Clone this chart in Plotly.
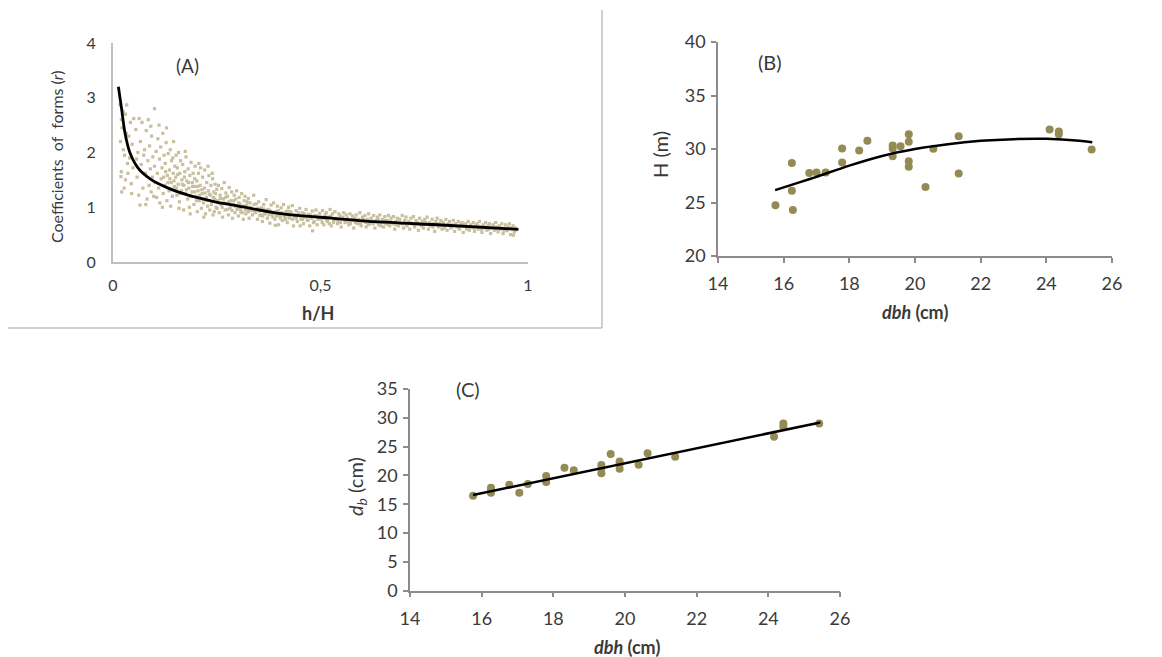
import plotly.graph_objects as go

# ---------------- Panel A data (h/H, coefficient of form r) ----------------
a_band1 = [(0.017,2.87),(0.02,2.6),(0.018,2.2),(0.02,1.65),(0.019,1.56),(0.022,2.45),(0.025,2.05),(0.027,1.35),
           (0.03,2.7),(0.033,2.87),(0.035,1.8),(0.03,1.5),(0.038,2.3),(0.04,1.9),(0.042,2.55),(0.045,1.25),
           (0.028,1.95),(0.024,2.75),(0.036,1.62),(0.046,2.15),(0.048,1.72),(0.05,2.62),(0.021,1.28),(0.044,1.43),(0.032,2.35)]
a_band2 = [(0.055,2.42),(0.058,1.55),(0.06,2.0),(0.062,1.22),(0.065,1.04),(0.066,2.2),(0.068,1.78),(0.07,2.55),
           (0.072,1.35),(0.074,1.95),(0.076,2.05),(0.078,1.62),(0.08,2.4),(0.082,1.15),(0.084,1.85),(0.085,2.6),
           (0.087,1.4),(0.088,2.12),(0.09,1.7),(0.092,1.28),(0.093,2.3),(0.095,1.55),(0.096,1.92),(0.098,1.2),
           (0.1,2.8),(0.1,1.75),(0.057,1.88),(0.063,2.62),(0.079,1.05),(0.091,2.48)]
a_band3 = [(0.102,1.45),(0.104,2.02),(0.105,1.18),(0.107,1.62),(0.108,2.25),(0.11,1.35),(0.112,1.88),(0.113,1.08),
           (0.115,2.1),(0.116,1.52),(0.118,1.72),(0.12,2.35),(0.121,1.25),(0.123,1.95),(0.125,1.4),(0.126,1.8),
           (0.128,2.18),(0.13,1.12),(0.131,1.58),(0.133,1.98),(0.135,1.3),(0.136,1.68),(0.138,2.05),(0.14,1.45),
           (0.141,1.85),(0.143,1.2),(0.145,1.62),(0.146,2.2),(0.148,1.38),(0.149,1.75),(0.111,2.5),(0.119,1.0),
           (0.129,2.45),(0.139,1.02),(0.144,1.9)]
a_band4 = [(0.151,1.55),(0.152,1.95),(0.154,1.22),(0.155,1.72),(0.157,1.42),(0.158,2.0),(0.16,1.1),(0.161,1.62),
           (0.163,1.85),(0.165,1.3),(0.166,1.5),(0.168,1.78),(0.17,0.95),(0.171,1.4),(0.173,1.65),(0.175,1.25),
           (0.176,1.92),(0.178,1.48),(0.18,1.15),(0.181,1.7),(0.183,1.35),(0.185,1.58),(0.186,0.88),(0.188,1.82),
           (0.19,1.28),(0.191,1.45),(0.193,1.62),(0.195,1.05),(0.196,1.38),(0.198,1.75),(0.2,1.2),(0.159,0.98),
           (0.174,2.02),(0.184,1.0),(0.197,1.52)]
a_band5 = [(0.202,1.48),(0.203,0.92),(0.205,1.3),(0.206,1.62),(0.208,1.12),(0.21,1.4),(0.211,1.72),(0.213,0.98),
           (0.215,1.25),(0.216,1.55),(0.218,1.08),(0.22,1.35),(0.221,1.68),(0.223,0.88),(0.225,1.18),(0.226,1.45),
           (0.228,1.02),(0.23,1.3),(0.231,1.58),(0.233,0.95),(0.235,1.22),(0.236,1.4),(0.238,1.1),(0.24,1.52),
           (0.241,0.86),(0.243,1.28),(0.245,1.15),(0.246,1.42),(0.248,1.0),(0.25,1.33),(0.207,1.8),(0.219,0.82),
           (0.229,1.75),(0.239,1.62),(0.244,0.92)]
a_band6 = [(0.252,1.12),(0.254,1.4),(0.256,0.9),(0.258,1.22),(0.26,1.05),(0.262,1.34),(0.264,0.82),(0.266,1.15),
           (0.268,1.45),(0.27,0.95),(0.272,1.26),(0.274,1.06),(0.276,1.2),(0.278,0.86),(0.28,1.36),(0.282,0.98),
           (0.284,1.12),(0.286,1.28),(0.288,0.8),(0.29,1.05),(0.292,1.22),(0.294,0.9),(0.296,1.15),(0.298,1.3),
           (0.3,1.0),(0.302,0.84),(0.304,1.18),(0.306,1.06),(0.308,0.92),(0.31,1.25),(0.312,1.02),(0.314,0.78),
           (0.316,1.12),(0.318,1.2),(0.32,0.88),(0.322,1.04),(0.324,0.96),(0.326,1.16),(0.328,0.8),(0.33,1.08),
           (0.333,0.98),(0.336,0.86),(0.339,1.22),(0.342,0.92),(0.345,1.06),(0.348,0.78)]
a_band7 = [(0.351,1.1),(0.354,0.85),(0.357,0.99),(0.36,0.74),(0.363,1.05),(0.366,0.9),(0.369,1.14),(0.372,0.8),
           (0.375,0.96),(0.378,0.71),(0.381,1.04),(0.384,0.87),(0.387,1.08),(0.39,0.78),(0.393,0.92),(0.396,1.02),
           (0.399,0.68),(0.402,0.85),(0.405,0.99),(0.408,0.76),(0.411,1.05),(0.414,0.83),(0.417,0.92),(0.42,0.72),
           (0.423,1.0),(0.426,0.8),(0.429,0.89),(0.432,1.03),(0.435,0.66),(0.438,0.83),(0.441,0.94),(0.444,0.74),
           (0.447,0.87),(0.45,0.98),(0.453,0.78),(0.456,0.9),(0.459,0.7),(0.462,0.83),(0.465,0.96),(0.468,0.76),
           (0.471,0.87),(0.474,0.66),(0.477,0.81),(0.48,0.93),(0.483,0.72),(0.486,0.85),(0.489,0.95),(0.492,0.68),
           (0.495,0.8),(0.498,0.89),(0.361,0.84),(0.391,0.67),(0.421,0.93),(0.451,0.66),(0.481,0.57)]
a_band8 = [(0.502,0.78),(0.505,0.94),(0.508,0.68),(0.511,0.86),(0.514,0.9),(0.517,0.74),(0.52,0.82),(0.523,0.96),
           (0.526,0.66),(0.529,0.88),(0.532,0.76),(0.535,0.92),(0.538,0.8),(0.541,0.7),(0.544,0.88),(0.547,0.84),
           (0.55,0.64),(0.553,0.78),(0.556,0.9),(0.559,0.72),(0.562,0.86),(0.565,0.8),(0.568,0.68),(0.571,0.88),
           (0.574,0.76),(0.577,0.84),(0.58,0.62),(0.583,0.8),(0.586,0.86),(0.589,0.7),(0.592,0.78),(0.595,0.9),
           (0.598,0.66),(0.601,0.82),(0.604,0.74),(0.607,0.85),(0.61,0.64),(0.613,0.78),(0.616,0.88),(0.619,0.7),
           (0.622,0.8),(0.625,0.74),(0.628,0.85),(0.631,0.62),(0.634,0.76),(0.637,0.82),(0.64,0.68),(0.643,0.86),
           (0.646,0.72),(0.649,0.78),(0.652,0.64),(0.655,0.83),(0.658,0.7),(0.661,0.76),(0.664,0.85),(0.667,0.66),
           (0.67,0.8),(0.673,0.72),(0.676,0.83),(0.679,0.6)]
a_band9 = [(0.682,0.74),(0.685,0.8),(0.688,0.66),(0.691,0.78),(0.694,0.7),(0.697,0.85),(0.7,0.62),(0.703,0.76),
           (0.706,0.82),(0.709,0.68),(0.712,0.74),(0.715,0.6),(0.718,0.8),(0.721,0.7),(0.724,0.83),(0.727,0.64),
           (0.73,0.76),(0.733,0.72),(0.736,0.58),(0.739,0.8),(0.742,0.68),(0.745,0.74),(0.748,0.62),(0.751,0.78),
           (0.754,0.7),(0.757,0.82),(0.76,0.6),(0.763,0.72),(0.766,0.66),(0.769,0.78),(0.772,0.7),(0.775,0.56),
           (0.778,0.74),(0.781,0.8),(0.784,0.64),(0.787,0.7),(0.79,0.76),(0.793,0.6),(0.796,0.72),(0.799,0.66),
           (0.802,0.78),(0.805,0.58),(0.808,0.7),(0.811,0.74),(0.814,0.62),(0.817,0.68),(0.82,0.76),(0.823,0.56),
           (0.826,0.7),(0.829,0.64),(0.832,0.74),(0.835,0.6),(0.838,0.68),(0.841,0.72),(0.844,0.54),(0.847,0.66),
           (0.85,0.7),(0.853,0.62),(0.856,0.74),(0.859,0.58),(0.862,0.68),(0.865,0.64),(0.868,0.72),(0.871,0.56),
           (0.874,0.66),(0.877,0.7),(0.88,0.6),(0.883,0.74),(0.886,0.64),(0.889,0.54),(0.892,0.68),(0.895,0.62),
           (0.898,0.72),(0.901,0.58),(0.904,0.66),(0.907,0.7),(0.91,0.52),(0.913,0.62),(0.916,0.68),(0.919,0.58),
           (0.922,0.72),(0.925,0.64),(0.928,0.55),(0.931,0.66),(0.934,0.6),(0.937,0.7),(0.94,0.52),(0.943,0.62),
           (0.946,0.68),(0.949,0.57),(0.952,0.64),(0.955,0.7),(0.958,0.5),(0.961,0.6),(0.964,0.66),(0.967,0.55),
           (0.97,0.62),(0.965,0.49)]
a_band10 = [(0.122,1.55),(0.127,1.65),(0.132,1.45),(0.137,1.52),(0.142,1.32),(0.147,1.48),(0.153,1.35),(0.156,1.6),
            (0.162,1.25),(0.167,1.42),(0.172,1.55),(0.177,1.32),(0.182,1.45),(0.187,1.2),(0.192,1.38),(0.197,1.28),
            (0.201,1.12),(0.204,1.38),(0.209,1.22),(0.214,1.32),(0.217,1.15),(0.222,1.26),(0.227,1.12),(0.232,1.24),
            (0.237,1.05),(0.242,1.18),(0.247,1.25),(0.251,0.98),(0.255,1.08),(0.259,1.16),(0.263,1.0),(0.267,1.08),
            (0.271,1.18),(0.275,0.96),(0.279,1.1),(0.283,1.04),(0.287,0.94),(0.291,1.12),(0.295,1.02),(0.299,0.96),
            (0.303,1.08),(0.307,0.98),(0.311,0.9),(0.315,1.02),(0.319,0.95),(0.323,1.1),(0.327,0.92),(0.331,1.0),
            (0.335,0.94),(0.34,1.05),(0.344,0.9),(0.349,0.98),(0.353,0.93),(0.358,0.86),(0.362,0.97),(0.367,0.88),
            (0.371,0.95),(0.376,0.86),(0.38,0.93),(0.385,0.82),(0.389,0.9),(0.394,0.84),(0.398,0.94),(0.403,0.8),
            (0.407,0.9),(0.412,0.84),(0.416,0.78),(0.419,0.88),(0.424,0.82),(0.428,0.92),(0.433,0.78),(0.437,0.86),
            (0.442,0.8),(0.446,0.9),(0.452,0.84),(0.457,0.78),(0.461,0.88),(0.466,0.82),(0.47,0.76),(0.476,0.86),
            (0.479,0.8),(0.485,0.74),(0.49,0.84),(0.494,0.78),(0.499,0.82),(0.504,0.72),(0.51,0.8),(0.515,0.76),
            (0.521,0.7),(0.525,0.84),(0.531,0.72),(0.536,0.78),(0.542,0.76),(0.548,0.72),(0.554,0.82),(0.56,0.76),
            (0.566,0.74),(0.572,0.7),(0.578,0.78),(0.584,0.72),(0.59,0.75),(0.596,0.7),(0.603,0.78),(0.609,0.72),
            (0.615,0.68),(0.621,0.76),(0.627,0.7),(0.633,0.73),(0.639,0.78),(0.645,0.66),(0.651,0.72),(0.657,0.76),
            (0.663,0.68),(0.669,0.74),(0.675,0.7),(0.681,0.68),(0.69,0.72),(0.699,0.7),(0.708,0.66),(0.717,0.72),
            (0.726,0.68),(0.735,0.7),(0.744,0.66),(0.753,0.72),(0.762,0.68),(0.771,0.64),(0.78,0.7),(0.789,0.66),
            (0.798,0.62),(0.807,0.68),(0.816,0.64),(0.825,0.66),(0.834,0.62),(0.843,0.68),(0.852,0.6),(0.861,0.64),
            (0.87,0.62),(0.879,0.66),(0.888,0.6),(0.897,0.64),(0.906,0.6),(0.915,0.64),(0.924,0.6),(0.933,0.62),
            (0.942,0.58),(0.951,0.6),(0.96,0.62),(0.969,0.58)]

a_fit_x = [0.013, 0.021, 0.029, 0.041, 0.061, 0.093, 0.133, 0.181, 0.246, 0.29, 0.398, 0.527, 0.631, 0.792, 0.977]
a_fit_y = [3.2, 2.78, 2.35, 1.99, 1.71, 1.5, 1.35, 1.22, 1.10, 1.04, 0.89, 0.80, 0.736, 0.676, 0.597]

# ---------------- Panel B data (dbh, H) ----------------
b_dbh = [15.75, 16.25, 16.25, 16.28, 16.78, 17.0, 17.28, 17.78, 17.78, 18.3, 18.55, 19.32, 19.32, 19.32,
         19.56, 19.81, 19.81, 19.81, 19.81, 20.32, 20.56, 21.33, 21.33, 24.1, 24.38, 24.38, 25.38]
b_height = [24.75, 28.7, 26.1, 24.3, 27.75, 27.8, 27.8, 30.05, 28.74, 29.85, 30.76, 30.33, 30.05, 29.33,
            30.26, 31.38, 30.67, 28.86, 28.34, 26.44, 30.02, 31.2, 27.71, 31.82, 31.63, 31.38, 29.95]
b_fit_x = [15.74, 16.5, 17.0, 18.0, 19.0, 20.0, 21.0, 22.0, 23.0, 24.0, 25.0, 25.4]
b_fit_y = [26.16, 26.9, 27.4, 28.45, 29.35, 30.0, 30.45, 30.76, 30.92, 30.95, 30.78, 30.64]

# ---------------- Panel C data (dbh, d_b) ----------------
c_dbh = [15.76, 16.26, 16.26, 16.26, 16.77, 17.05, 17.29, 17.8, 17.8, 18.31, 18.57, 19.34, 19.34, 19.34,
         19.6, 19.85, 19.85, 19.85, 20.38, 20.63, 21.4, 24.16, 24.42, 24.42, 25.42]
c_db = [16.48, 17.87, 17.5, 17.0, 18.39, 17.0, 18.5, 19.9, 18.85, 21.34, 20.88, 21.8, 21.2, 20.36,
        23.71, 22.44, 21.98, 21.17, 21.86, 23.83, 23.25, 26.72, 29.0, 28.45, 29.0]
c_fit_x = [15.76, 25.45]
c_fit_y = [16.6, 29.2]

# ---------------- Figure ----------------
OFF = 8                    # page (body) margin of the html page
W, H = 1162 - OFF, 657 - OFF
FONT = "Lato, 'Open Sans', sans-serif"
TXT = "#3a3a3a"
A_DOT = "#c8bf9e"
OLIVE = "#948a54"

a_pts = (a_band1 + a_band2 + a_band3 + a_band4 + a_band5 + a_band6 + a_band7 + a_band8 + a_band9 + a_band10)
a_x = [p[0] for p in a_pts]
a_y = [p[1] for p in a_pts]

fig = go.Figure()
fig.add_trace(go.Scatter(x=a_x, y=a_y, mode="markers", xaxis="x", yaxis="y",
                         marker=dict(symbol="square", size=3.2, color=A_DOT, line=dict(width=0)),
                         showlegend=False))
fig.add_trace(go.Scatter(x=a_fit_x, y=a_fit_y, mode="lines", xaxis="x", yaxis="y",
                         line=dict(color="black", width=2.8, shape="spline", smoothing=0.8), showlegend=False))

fig.add_trace(go.Scatter(x=b_dbh, y=b_height, mode="markers", xaxis="x2", yaxis="y2",
                         marker=dict(size=8, color=OLIVE), showlegend=False))
fig.add_trace(go.Scatter(x=b_fit_x, y=b_fit_y, mode="lines", xaxis="x2", yaxis="y2",
                         line=dict(color="black", width=2.5, shape="spline", smoothing=0.8), showlegend=False))

fig.add_trace(go.Scatter(x=c_dbh, y=c_db, mode="markers", xaxis="x3", yaxis="y3",
                         marker=dict(size=8, color=OLIVE), showlegend=False))
fig.add_trace(go.Scatter(x=c_fit_x, y=c_fit_y, mode="lines", xaxis="x3", yaxis="y3",
                         line=dict(color="black", width=2.5), showlegend=False))


def px_x(p):
    return (p - OFF) / W


def px_y(p):
    return 1 - (p - OFF) / H


ax_a = dict(showgrid=False, zeroline=False, showline=True, linecolor="#c0c0c0", linewidth=2,
            ticks="", automargin=False, tickfont=dict(size=16, color=TXT, family=FONT))
ax_bc = dict(showgrid=False, zeroline=False, showline=True, linecolor="#8c8c8c", linewidth=1.5,
             ticks="outside", ticklen=5, tickwidth=1.5, tickcolor="#8c8c8c", automargin=False,
             tickfont=dict(size=18, color=TXT, family=FONT))

fig.update_layout(
    width=W, height=H, margin=dict(l=0, r=0, t=0, b=0, pad=0, autoexpand=False),
    paper_bgcolor="white", plot_bgcolor="rgba(0,0,0,0)",
    font=dict(family=FONT, color=TXT),
    xaxis=dict(ax_a, domain=[px_x(113), px_x(528)], range=[0, 1], anchor="y",
               tickvals=[0, 0.5, 1], ticktext=["0", "0,5", "1"], ticklabelstandoff=8),
    yaxis=dict(ax_a, domain=[px_y(262), px_y(43)], range=[0, 4], anchor="x",
               tickvals=[0, 1, 2, 3, 4], ticklabelstandoff=12),
    xaxis2=dict(ax_bc, domain=[px_x(718), px_x(1112)], range=[14, 26], anchor="y2", dtick=2,
                ticklabelstandoff=6),
    yaxis2=dict(ax_bc, domain=[px_y(256), px_y(42)], range=[20, 40], anchor="x2", dtick=5,
                ticklabelstandoff=2),
    xaxis3=dict(ax_bc, domain=[px_x(410), px_x(840)], range=[14, 26], anchor="y3", dtick=2,
                ticklabelstandoff=6),
    yaxis3=dict(ax_bc, domain=[px_y(590.7), px_y(389)], range=[0, 35], anchor="x3", dtick=5,
                ticklabelstandoff=2),
)

# panel frame lines
fig.add_shape(type="line", xref="paper", yref="paper", x0=px_x(8), x1=px_x(602), y0=px_y(328), y1=px_y(328),
              line=dict(color="#c0c0c0", width=1.5))
fig.add_shape(type="line", xref="paper", yref="paper", x0=px_x(602), x1=px_x(602), y0=px_y(10), y1=px_y(328),
              line=dict(color="#c0c0c0", width=1.5))


def ann(text, x, y, size, angle=0):
    fig.add_annotation(text=text, xref="paper", yref="paper", x=px_x(x), y=px_y(y),
                       xanchor="center", yanchor="middle", showarrow=False, textangle=angle,
                       font=dict(size=size, color=TXT, family=FONT))


ann("(A)", 187, 66, 19)
ann("Coefficients  of  forms (<i>r</i>)", 57, 157, 16, -90)
ann("<b>h/H</b>", 318, 313, 18)

ann("(B)", 770, 62, 20)
ann("H (m)", 660, 155, 20, -90)
ann("<b><i>dbh</i> (cm)</b>", 915, 312, 18)

ann("(C)", 468, 389, 20)
ann("<i>d</i><sub><i>b</i></sub> (cm)", 356, 487, 20, -90)
ann("<b><i>dbh</i> (cm)</b>", 627, 647, 18)

fig.write_html("out.html")
